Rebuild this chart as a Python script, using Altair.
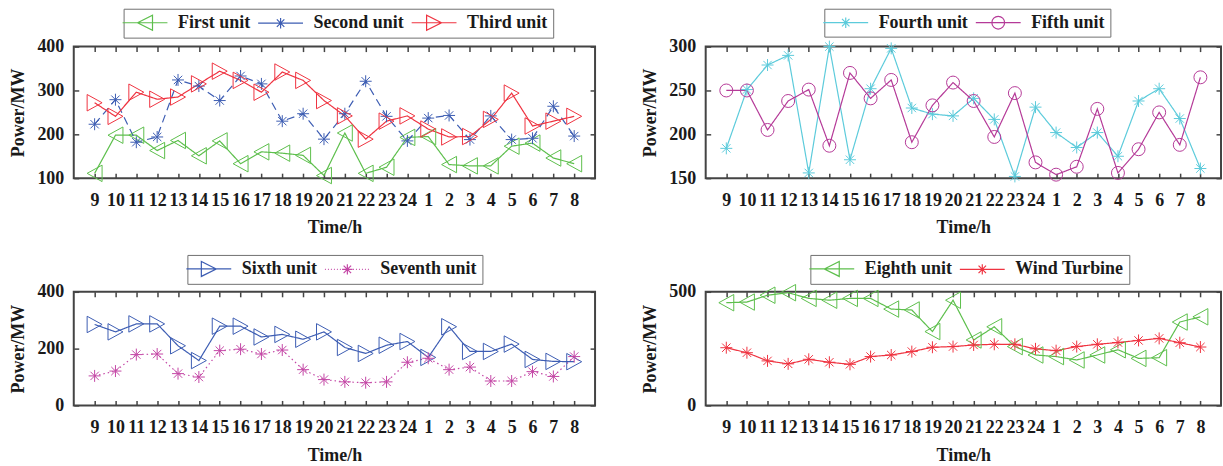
import altair as alt
import pandas as pd

# ---------------- data ----------------
hours = ["9", "10", "11", "12", "13", "14", "15", "16", "17", "18", "19", "20",
         "21", "22", "23", "24", "1", "2", "3", "4", "5", "6", "7", "8"]

first_unit = [111, 198, 198, 163, 186, 151, 185, 133, 160, 157, 152, 106,
              203, 111, 125, 193, 195, 131, 128, 128, 173, 180, 146, 133]
second_unit = [223, 279, 182, 194, 324, 310, 277, 333, 315, 230, 247, 189,
               247, 321, 241, 185, 237, 243, 188, 242, 188, 191, 264, 196]
third_unit = [272, 241, 296, 280, 285, 315, 344, 323, 296, 342, 323, 277,
              242, 189, 230, 242, 212, 194, 195, 234, 294, 219, 230, 241]

fourth_unit = [184, 251, 279, 290, 156, 300, 171, 252, 298, 230, 223, 221,
               241, 217, 152, 231, 202, 185, 202, 175, 238, 252, 218, 161]
fifth_unit = [250, 250, 205, 238, 251, 187, 270, 241, 262, 191, 233, 259,
              238, 197, 247, 168, 154, 163, 229, 156, 183, 225, 188, 265]

sixth_unit = [285, 259, 287, 287, 210, 158, 279, 279, 241, 250, 233, 259,
              204, 183, 212, 225, 169, 277, 190, 190, 216, 162, 155, 154]
seventh_unit = [104, 121, 179, 181, 112, 100, 193, 198, 181, 195, 126, 91,
                83, 80, 83, 152, 166, 126, 135, 86, 86, 119, 102, 172]

eighth_unit = [452, 455, 485, 496, 471, 463, 471, 471, 424, 420, 325, 463,
               288, 346, 259, 222, 215, 200, 222, 245, 207, 210, 367, 390]
wind_turbine = [254, 232, 196, 183, 203, 190, 181, 215, 222, 237, 256, 259,
                266, 269, 269, 249, 241, 259, 269, 277, 286, 295, 276, 257]

# ---------------- styles ----------------
GREEN = "#5dbf4c"
BLUE = "#3d5db3"
RED = "#ef3340"
CYAN = "#5ccbdb"
MAG5 = "#b53a98"
MAG7 = "#c447a6"

FONT = "Liberation Serif"

TRI_L = "M-1,0L1,-1.1L1,1.1Z"
TRI_R = "M1,0L-1,-1.1L-1,1.1Z"
STAR = "M-1,0L1,0M0,-1L0,1M-0.7,-0.7L0.7,0.7M-0.7,0.7L0.7,-0.7"
CIRC = "circle"

LEG_TRI_L = "M-3,0L3,0M-1,0L1,-1L1,1Z"
LEG_TRI_R = "M-3,0L3,0M1,0L-1,-1L-1,1Z"
LEG_STAR = "M-3,0L3,0M0,-0.7L0,0.7M-0.5,-0.5L0.5,0.5M-0.5,0.5L0.5,-0.5"
LEG_CIRC = ("M-3,0L3,0M-0.85,0A0.85,0.85,0,1,1,0.85,0"
            "A0.85,0.85,0,1,1,-0.85,0")


def dotted_line_path():
    parts = []
    x = -3.0
    while x < -0.75:
        parts.append("M%.2f,0L%.2f,0" % (x, x + 0.12))
        x += 0.4
    x = 0.75
    while x < 3.0:
        parts.append("M%.2f,0L%.2f,0" % (x, x + 0.12))
        x += 0.4
    return "".join(parts)


LEG_STAR_DOT = (dotted_line_path() +
                "M-0.7,0L0.7,0M0,-0.7L0,0.7M-0.5,-0.5L0.5,0.5M-0.5,0.5L0.5,-0.5")

SIZES = {TRI_L: 225, TRI_R: 225, STAR: 144, CIRC: 169}

label_expr = "[" + ",".join("'%s'" % h for h in hours) + "][datum.value - 1]"

INDEP = dict(color="independent", shape="independent")


def panel(names, values, colors, markers, leg_paths, dashes, ydom, yvals,
          width, height, legx, legy):
    rows = []
    for name, vals in zip(names, values):
        for i, v in enumerate(vals):
            rows.append({"idx": i + 1, "series": name, "value": v})
    df = pd.DataFrame(rows)
    base = alt.Chart(df)

    xscale = alt.Scale(domain=[0, 25], nice=False, zero=False)
    yscale = alt.Scale(domain=ydom, nice=False, zero=False)
    ticks = list(range(1, 25))

    x_bottom = alt.X("idx:Q", scale=xscale, axis=alt.Axis(
        orient="bottom", values=ticks, labelExpr=label_expr, offset=-5,
        tickSize=5, domain=False, grid=False, labelPadding=13,
        labelOverlap=False, labelFlush=False, labelBound=False,
        title="Time/h", titlePadding=10))
    y_left = alt.Y("value:Q", scale=yscale, axis=alt.Axis(
        orient="left", values=yvals, offset=-5, tickSize=5, domain=False,
        grid=False, labelPadding=10, format="d", labelOverlap=False,
        labelFlush=False, title="Power/MW", titlePadding=9))
    x_top = alt.X("idx:Q", scale=xscale, axis=alt.Axis(
        orient="top", values=ticks, offset=-5, tickSize=5, domain=False,
        grid=False, labels=False, title=None))
    y_right = alt.Y("value:Q", scale=yscale, axis=alt.Axis(
        orient="right", values=yvals, offset=-5, tickSize=5, domain=False,
        grid=False, labels=False, title=None))
    x_none = alt.X("idx:Q", scale=xscale, axis=None)
    y_none = alt.Y("value:Q", scale=yscale, axis=None)

    layers = []
    for k, (name, col, dash) in enumerate(zip(names, colors, dashes)):
        layers.append(
            base.transform_filter(alt.datum.series == name)
            .mark_line(color=col, strokeWidth=1.2, strokeDash=dash)
            .encode(x=x_bottom if k == 0 else x_none,
                    y=y_left if k == 0 else y_none)
        )
    for k, (name, col, mk) in enumerate(zip(names, colors, markers)):
        layers.append(
            base.transform_filter(alt.datum.series == name)
            .mark_point(shape=mk, size=SIZES[mk], filled=False, color=col,
                        strokeWidth=1, opacity=1)
            .encode(x=x_top if k == 0 else x_none,
                    y=y_right if k == 0 else y_none)
        )

    legend = alt.Legend(
        orient="none", legendX=legx, legendY=legy, direction="horizontal",
        title=None, symbolSize=225, symbolStrokeWidth=1.2, symbolOffset=7.5,
        labelOffset=24, labelFont=FONT, labelFontWeight="bold",
        labelFontSize=18, labelColor="#1a1a1a", labelLimit=400,
        strokeColor="#707070", fillColor="white", padding=5,
        columnPadding=4, cornerRadius=0)

    leg_layer = base.transform_filter("datum.idx < 0").mark_point(
        filled=False, opacity=1, strokeWidth=1.2).encode(
        x=x_none, y=y_none,
        color=alt.Color("series:N", scale=alt.Scale(domain=names, range=colors),
                        legend=legend),
        shape=alt.Shape("series:N",
                        scale=alt.Scale(domain=names, range=leg_paths),
                        legend=legend),
    )
    layers.append(leg_layer)

    return alt.layer(*layers).resolve_axis(x="independent", y="independent") \
        .properties(width=width, height=height)


p1 = panel(["First unit", "Second unit", "Third unit"],
           [first_unit, second_unit, third_unit],
           [GREEN, BLUE, RED], [TRI_L, STAR, TRI_R],
           [LEG_TRI_L, LEG_STAR, LEG_TRI_R],
           [[1, 0], [8, 5], [1, 0]],
           [100, 400], [100, 200, 300, 400], 523, 132, 50, -38)

p2 = panel(["Fourth unit", "Fifth unit"],
           [fourth_unit, fifth_unit],
           [CYAN, MAG5], [STAR, CIRC],
           [LEG_STAR, LEG_CIRC],
           [[1, 0], [1, 0]],
           [150, 300], [150, 200, 250, 300], 517, 132, 119, -38)

p3 = panel(["Sixth unit", "Seventh unit"],
           [sixth_unit, seventh_unit],
           [BLUE, MAG7], [TRI_R, STAR],
           [LEG_TRI_R, LEG_STAR_DOT],
           [[1, 0], [1.5, 3]],
           [0, 400], [0, 200, 400], 523, 114, 114, -37)

p4 = panel(["Eighth unit", "Wind Turbine"],
           [eighth_unit, wind_turbine],
           [GREEN, RED], [TRI_L, STAR],
           [LEG_TRI_L, LEG_STAR],
           [[1, 0], [1, 0]],
           [0, 500], [0, 500], 517, 114, 105, -37)

top = alt.hconcat(p1, p2, spacing=44).resolve_scale(**INDEP) \
    .resolve_legend(color="independent", shape="independent")
bottom = alt.hconcat(p3, p4, spacing=44).resolve_scale(**INDEP) \
    .resolve_legend(color="independent", shape="independent")

chart = alt.vconcat(top, bottom, spacing=15).resolve_scale(**INDEP) \
    .resolve_legend(color="independent", shape="independent").properties(
    padding={"left": 9, "top": 6, "right": 0, "bottom": 0},
    background="white",
).configure_view(
    stroke="#444444", strokeWidth=2
).configure_axis(
    labelFont=FONT, labelFontSize=18, labelFontWeight="bold",
    labelColor="#1a1a1a", titleFont=FONT, titleFontSize=18,
    titleFontWeight="bold", titleColor="#1a1a1a", tickColor="#444444",
    tickWidth=1.5
)

chart.save("out.html", embed_options={"renderer": "svg", "actions": False})
